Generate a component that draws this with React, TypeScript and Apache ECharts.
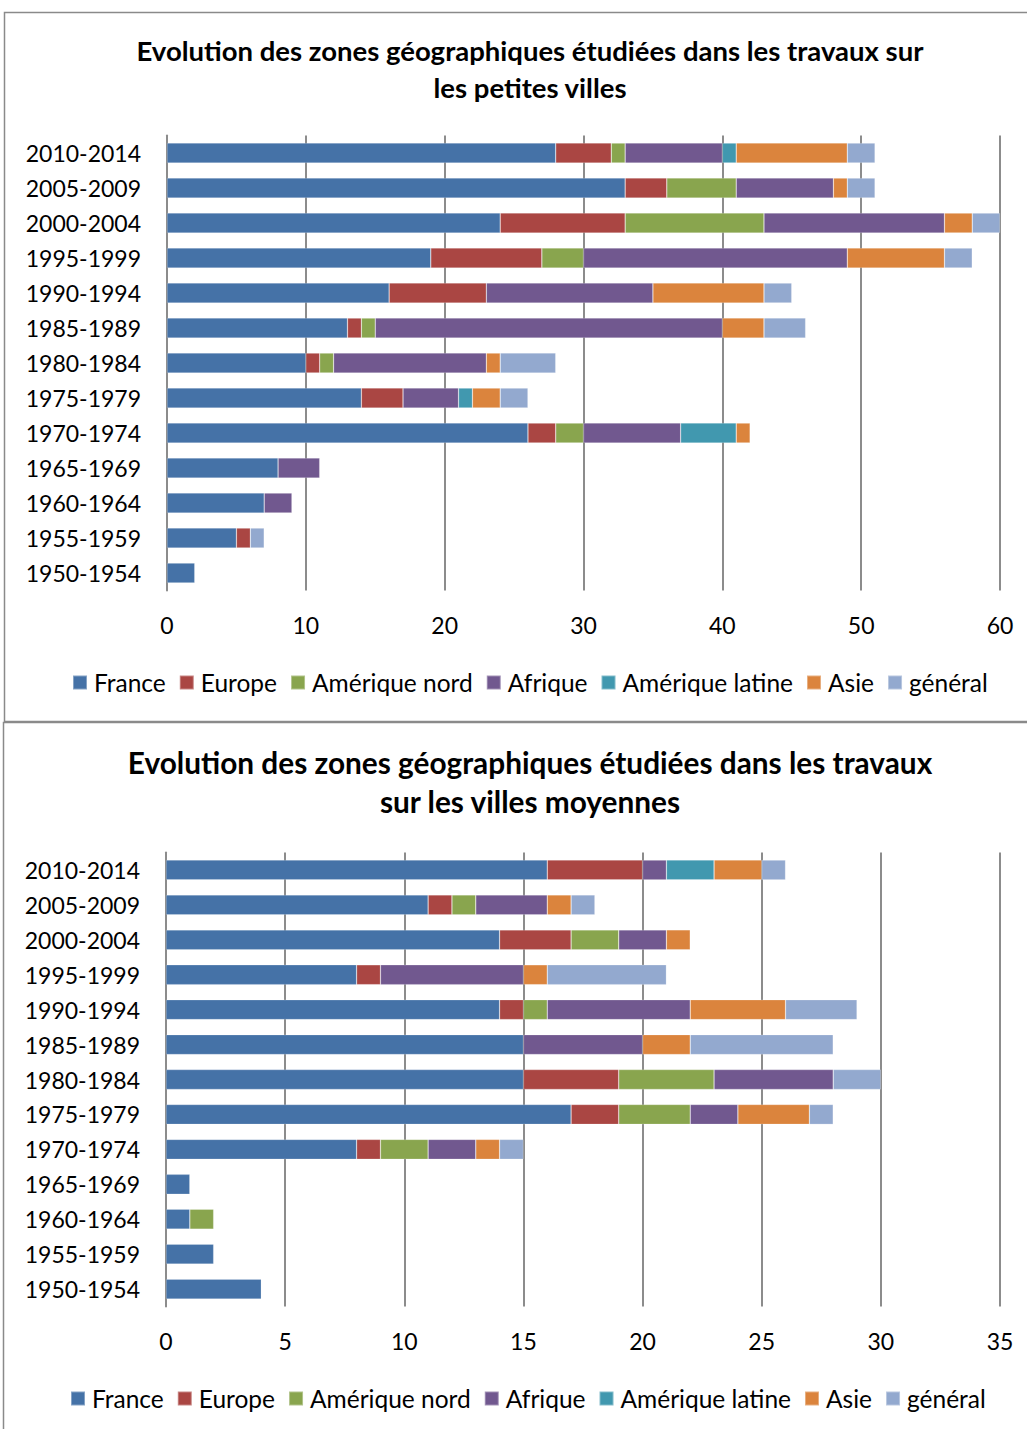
import React, { useEffect, useRef } from "react";
import * as echarts from "echarts";

const categories = [
  "2010-2014", "2005-2009", "2000-2004", "1995-1999", "1990-1994", "1985-1989",
  "1980-1984", "1975-1979", "1970-1974", "1965-1969", "1960-1964", "1955-1959", "1950-1954",
];
const seriesNames = ["France", "Europe", "Amérique nord", "Afrique", "Amérique latine", "Asie", "général"];
const colors = ["#4572A7", "#AA4643", "#89A54E", "#71588F", "#4198AF", "#DB843D", "#93A9CF"];

// Chart 1 : petites villes
const pvFrance = [28, 33, 24, 19, 16, 13, 10, 14, 26, 8, 7, 5, 2];
const pvEurope = [4, 3, 9, 8, 7, 1, 1, 3, 2, 0, 0, 1, 0];
const pvAmNord = [1, 5, 10, 3, 0, 1, 1, 0, 2, 0, 0, 0, 0];
const pvAfrique = [7, 7, 13, 19, 12, 25, 11, 4, 7, 3, 2, 0, 0];
const pvAmLat = [1, 0, 0, 0, 0, 0, 0, 1, 4, 0, 0, 0, 0];
const pvAsie = [8, 1, 2, 7, 8, 3, 1, 2, 1, 0, 0, 0, 0];
const pvGeneral = [2, 2, 2, 2, 2, 3, 4, 2, 0, 0, 0, 1, 0];
const pvTicks = { min: 0, max: 60, interval: 10 };

// Chart 2 : villes moyennes
const vmFrance = [16, 11, 14, 8, 14, 15, 15, 17, 8, 1, 1, 2, 4];
const vmEurope = [4, 1, 3, 1, 1, 0, 4, 2, 1, 0, 0, 0, 0];
const vmAmNord = [0, 1, 2, 0, 1, 0, 4, 3, 2, 0, 1, 0, 0];
const vmAfrique = [1, 3, 2, 6, 6, 5, 5, 2, 2, 0, 0, 0, 0];
const vmAmLat = [2, 0, 0, 0, 0, 0, 0, 0, 0, 0, 0, 0, 0];
const vmAsie = [2, 1, 1, 1, 4, 2, 0, 3, 1, 0, 0, 0, 0];
const vmGeneral = [1, 1, 0, 5, 3, 6, 2, 1, 1, 0, 0, 0, 0];
const vmTicks = { min: 0, max: 35, interval: 5 };

const pvData = [pvFrance, pvEurope, pvAmNord, pvAfrique, pvAmLat, pvAsie, pvGeneral];
const vmData = [vmFrance, vmEurope, vmAmNord, vmAfrique, vmAmLat, vmAsie, vmGeneral];

const FONT = "Lato";

export default function App() {
  const ref = useRef<HTMLDivElement>(null);
  useEffect(() => {
    if (!ref.current) return;
    const chart = echarts.init(ref.current, null, { renderer: "svg" });
    const mkSeries = (data: number[][], idx: number, stack: string) =>
      data.map((vals, i) => ({
        name: seriesNames[i],
        type: "bar",
        stack,
        xAxisIndex: idx,
        yAxisIndex: idx,
        barWidth: "57%",
        itemStyle: { color: colors[i], borderColor: "rgba(255,255,255,0.35)", borderWidth: 0.6 },
        data: vals.map((v) => (v === 0 ? null : v)),
      }));
    const xAxisBase = (t: { min: number; max: number; interval: number }, grid: number) => ({
      type: "value",
      gridIndex: grid,
      min: t.min,
      max: t.max,
      interval: t.interval,
      axisLine: { show: false },
      axisTick: { show: false },
      axisLabel: { fontFamily: FONT, fontSize: 23, color: "#000", margin: 23 },
      splitLine: { lineStyle: { color: "#8c8c8c", width: 2 } },
    });
    const yAxisBase = (grid: number) => ({
      type: "category",
      gridIndex: grid,
      data: categories,
      inverse: true,
      axisLine: { show: true, lineStyle: { color: "#8c8c8c", width: 2 } },
      axisTick: { show: false },
      axisLabel: { fontFamily: FONT, fontSize: 23, color: "#000", margin: 26 },
    });
    const legendBase = (top: number, left: number) => ({
      top,
      left,
      itemWidth: 14,
      itemHeight: 14,
      itemGap: 13,
      icon: "rect",
      textStyle: { fontFamily: FONT, fontSize: 24.5, color: "#000", padding: [0, 0, 0, 2] },
      data: seriesNames,
    });
    chart.setOption({
      animation: false,
      backgroundColor: "#fff",
      title: [
        {
          text: "Evolution des zones géographiques étudiées dans les travaux sur\nles petites villes",
          left: 525,
          textAlign: "center",
          top: 27,
          textStyle: { fontFamily: FONT, fontSize: 27.5, fontWeight: "bold", color: "#000", lineHeight: 37 },
        },
        {
          text: "Evolution des zones géographiques étudiées dans les travaux\nsur les villes moyennes",
          left: 525,
          textAlign: "center",
          top: 738,
          textStyle: { fontFamily: FONT, fontSize: 29.8, fontWeight: "bold", color: "#000", lineHeight: 39 },
        },
      ],
      legend: [legendBase(665, 67), legendBase(1381, 65)],
      grid: [
        { left: 167, right: 27, top: 135.5, height: 455 },
        { left: 166, right: 27, top: 852.5, height: 454 },
      ],
      xAxis: [xAxisBase(pvTicks, 0), xAxisBase(vmTicks, 1)],
      yAxis: [yAxisBase(0), yAxisBase(1)],
      series: [...mkSeries(pvData, 0, "pv"), ...mkSeries(vmData, 1, "vm")],
      graphic: [
        {
          type: "rect",
          shape: { x: 4.5, y: 12.5, width: 1100, height: 709 },
          style: { fill: "none", stroke: "#8a8a8a", lineWidth: 1.5 },
          silent: true,
        },
        {
          type: "rect",
          shape: { x: 3.5, y: 722.5, width: 1100, height: 800 },
          style: { fill: "none", stroke: "#8a8a8a", lineWidth: 1.5 },
          silent: true,
        },
      ],
    });
    return () => chart.dispose();
  }, []);
  return (
    <div
      ref={ref}
      style={{ position: "absolute", left: 0, top: 0, width: 1027, height: 1429 }}
    />
  );
}
